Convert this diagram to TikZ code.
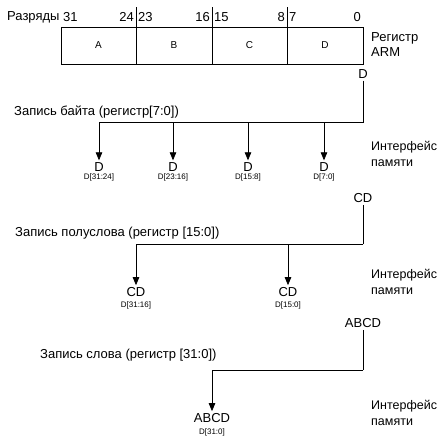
\documentclass[tikz,border=0pt]{standalone}
\usepackage{fontspec}
\setmainfont{Liberation Sans}
\usetikzlibrary{arrows.meta}
\begin{document}
\begin{tikzpicture}[x=1pt,y=-1pt,
  txt/.style={font=\fontsize{13}{15}\selectfont, inner sep=0pt},
  side/.style={font=\fontsize{12.5}{16}\selectfont, inner sep=0pt, align=left, anchor=west},
  cell/.style={font=\fontsize{10}{11}\selectfont},
  lbl/.style={font=\fontsize{13}{14}\selectfont, inner sep=2pt},
  sub/.style={font=\fontsize{8}{9}\selectfont, inner sep=0pt},
  wire/.style={line width=0.8pt},
  arr/.style={wire, -{Triangle[width=6.5pt,length=8pt]}}]
\useasboundingbox (0,0) rectangle (438,440);

% Регистр ARM
\draw [wire] (61,27) rectangle (363,64);
\foreach \x in {136,212,287} \draw [wire] (\x,7) -- (\x,64);
\node [txt, anchor=west] (raz) at (7,17) {Разряды};
\node [txt, anchor=west] (n31) at (63,17) {31};
\node [txt, anchor=east] (n24) at (134,17) {24};
\node [txt, anchor=west] (n23) at (138,17) {23};
\node [txt, anchor=east] (n16) at (210,17) {16};
\node [txt, anchor=west] (n15) at (214,17) {15};
\node [txt, anchor=east] (n8) at (285,17) {8};
\node [txt, anchor=west] (n7) at (289,17) {7};
\node [txt, anchor=east] (n0) at (361,17) {0};
\node [cell] (cA) at (98.5,45) {A};
\node [cell] (cB) at (174,45) {B};
\node [cell] (cC) at (249.5,45) {C};
\node [cell] (cD) at (325,45) {D};
\node [txt, align=left, anchor=west] (reg) at (371,45) {Регистр\\ARM};

% Запись байта
\node [lbl] (rD) at (363,74) {D};
\coordinate (jb) at (363,122.5);
\node [txt, anchor=west] (tb) at (14,112) {Запись байта (регистр[7:0])};
\foreach \x/\s [count=\i] in {99/{D[31:24]},173/{D[23:16]},248/{D[15:8]},324/{D[7:0]}} {
  \node [lbl] (b\i) at (\x,167) {D};
  \node [sub] (sb\i) at (\x,177) {\s};
  \draw [arr] (jb) -| (b\i);
}
\draw [wire] (rD) -- (jb);
\node [side] (ib) at (371,154) {Интерфейс\\памяти};

% Запись полуслова
\node [lbl] (rCD) at (363,198) {CD};
\coordinate (jh) at (363,244);
\node [txt, anchor=west] (th) at (15,233) {Запись полуслова (регистр [15:0])};
\foreach \x/\s [count=\i] in {136/{D[31:16]},288/{D[15:0]}} {
  \node [lbl] (h\i) at (\x,292) {CD};
  \node [sub] (sh\i) at (\x,305) {\s};
  \draw [arr] (jh) -| (h\i);
}
\draw [wire] (rCD) -- (jh);
\node [side] (ih) at (371,282) {Интерфейс\\памяти};

% Запись слова
\node [lbl] (rABCD) at (363,323) {ABCD};
\coordinate (jw) at (363,370);
\node [txt, anchor=west] (tw) at (40,355) {Запись слова (регистр [31:0])};
\node [lbl] (w1) at (212,418) {ABCD};
\node [sub] (sw1) at (212,432) {D[31:0]};
\draw [wire] (rABCD) -- (jw);
\draw [arr] (jw) -| (w1);
\node [side] (iw) at (371,413) {Интерфейс\\памяти};
\end{tikzpicture}
\end{document}
